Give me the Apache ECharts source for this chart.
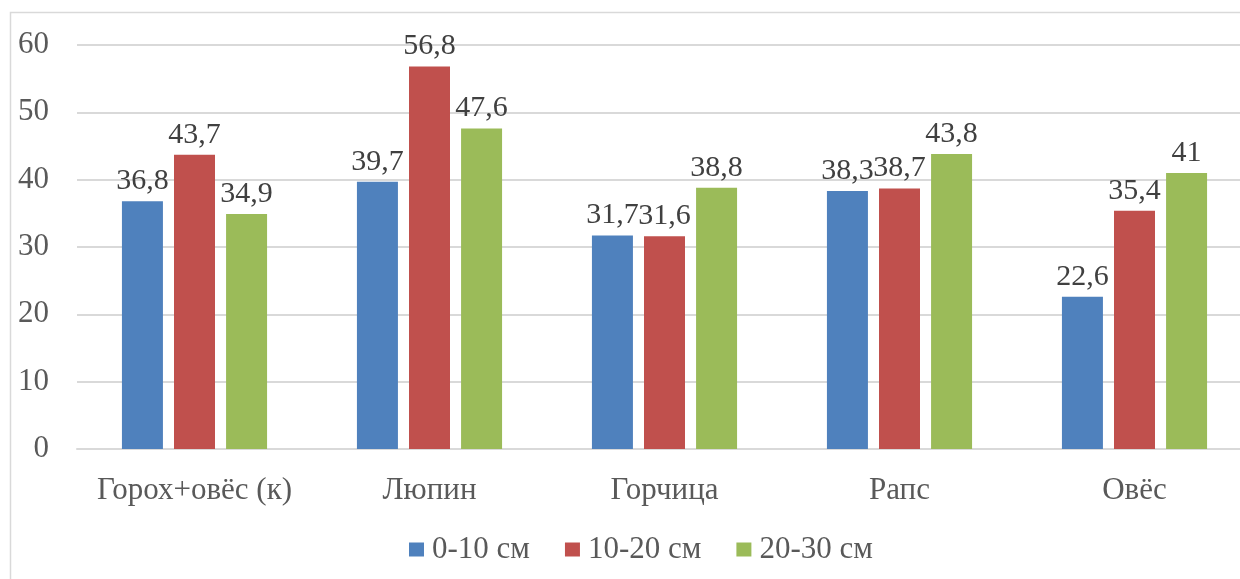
<!DOCTYPE html>
<html>
<head>
<meta charset="utf-8">
<script src="https://cdn.jsdelivr.net/npm/echarts@6/dist/echarts.min.js"></script>
<style>
  html, body { margin: 0; padding: 0; background: #ffffff; }
  #chart { width: 1240px; height: 579px; }
</style>
</head>
<body>
<div id="chart"></div>
<script>
// Crops and soil layers
const categories = ['Горох+овёс (к)', 'Люпин', 'Горчица', 'Рапс', 'Овёс'];
const layerNames = ['0-10 см', '10-20 см', '20-30 см'];
const layer0to10 = [36.8, 39.7, 31.7, 38.3, 22.6];
const layer10to20 = [43.7, 56.8, 31.6, 38.7, 35.4];
const layer20to30 = [34.9, 47.6, 38.8, 43.8, 41];
const yTicks = { min: 0, max: 60, interval: 10 };

const colors = ['#4f81bd', '#c0504d', '#9bbb59'];
const fontFamily = '"Liberation Serif", "Times New Roman", serif';
const fmt = v => String(v).replace('.', ',');

const chart = echarts.init(document.getElementById('chart'), null, { renderer: 'canvas' });

const makeSeries = (name, data, color) => ({
  name,
  type: 'bar',
  data,
  barWidth: 41,
  barGap: '27%',
  itemStyle: { color },
  label: {
    show: true,
    position: 'top',
    distance: 5,
    color: '#404040',
    fontFamily,
    fontSize: 30,
    formatter: p => fmt(p.value)
  }
});

chart.setOption({
  animation: false,
  textStyle: { fontFamily },
  graphic: [{
    type: 'rect',
    shape: { x: 10.5, y: 12.5, width: 1400, height: 800 },
    style: { fill: 'none', stroke: '#d9d9d9', lineWidth: 1.5 },
    z: -1
  }],
  // the plot runs a little past the right edge of the page
  grid: { left: 77, width: 1175, top: 45, height: 404, outerBoundsMode: 'none' },
  legend: {
    top: 529,
    left: 404,
    itemWidth: 15,
    itemHeight: 14,
    itemGap: 35,
    icon: 'rect',
    textStyle: { fontFamily, fontSize: 31, color: '#595959', padding: [0, 0, 0, 3] },
    data: layerNames
  },
  xAxis: {
    type: 'category',
    data: categories,
    axisLine: { lineStyle: { color: '#d9d9d9', width: 2 } },
    axisTick: { show: false },
    axisLabel: { color: '#595959', fontFamily, fontSize: 31, margin: 26, interval: 0 }
  },
  yAxis: {
    type: 'value',
    min: yTicks.min,
    max: yTicks.max,
    interval: yTicks.interval,
    axisLine: { show: false },
    axisTick: { show: false },
    splitLine: { lineStyle: { color: '#d9d9d9', width: 2 } },
    axisLabel: { color: '#595959', fontFamily, fontSize: 31, margin: 28 }
  },
  color: colors,
  series: [
    makeSeries(layerNames[0], layer0to10, colors[0]),
    makeSeries(layerNames[1], layer10to20, colors[1]),
    makeSeries(layerNames[2], layer20to30, colors[2])
  ]
});
</script>
</body>
</html>
